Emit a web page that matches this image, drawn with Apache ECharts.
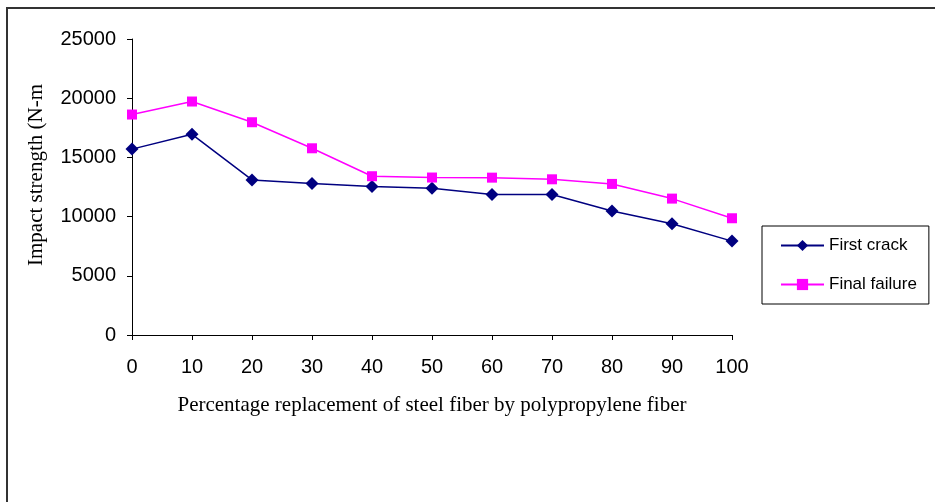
<!DOCTYPE html>
<html>
<head>
<meta charset="utf-8">
<script src="https://cdn.jsdelivr.net/npm/echarts@6/dist/echarts.min.js"></script>
<style>
  html, body { margin: 0; padding: 0; background: #fff; }
  #chart { width: 935px; height: 502px; }
</style>
</head>
<body>
<div id="chart"></div>
<script>
// percentage replacement of steel fiber
const replacement = [0, 10, 20, 30, 40, 50, 60, 70, 80, 90, 100]
const firstCrack = [15700, 16950, 13100, 12800, 12550, 12400, 11870, 11870, 10480, 9400, 7930]
const finalFailure = [18620, 19720, 17970, 15770, 13410, 13300, 13290, 13150, 12760, 11520, 9860]

const sans = 'Arial, "Liberation Sans", sans-serif'
const serif = '"Times New Roman", "Liberation Serif", serif'

const chart = echarts.init(document.getElementById('chart'))

const makeSeries = (name, values, color, symbol, size) => ({
  name: name,
  type: 'line',
  data: replacement.map((x, i) => [x, values[i]]),
  symbol: symbol,
  symbolSize: size,
  lineStyle: { color: color, width: 1.5 },
  itemStyle: { color: color },
  animation: false
})

chart.setOption({
  animation: false,
  grid: { left: 132, right: 203, top: 39, bottom: 167 },
  graphic: [
    {
      type: 'rect',
      shape: { x: 7, y: 8, width: 1000, height: 1000 },
      style: { fill: 'none', stroke: '#333', lineWidth: 2 }
    },
    {
      type: 'text',
      x: 36,
      y: 175,
      rotation: Math.PI / 2,
      style: {
        text: 'Impact strength (N-m',
        font: '21px ' + serif,
        fill: '#000',
        align: 'center',
        verticalAlign: 'middle'
      }
    }
  ],
  legend: {
    orient: 'vertical',
    left: 762,
    top: 226,
    padding: [11, 12, 11, 18],
    itemGap: 22,
    itemWidth: 43,
    itemHeight: 14,
    borderColor: '#000',
    borderWidth: 1,
    textStyle: { fontFamily: sans, fontSize: 17, color: '#000' },
    data: ['First crack', 'Final failure']
  },
  xAxis: {
    type: 'value',
    min: 0,
    max: 100,
    interval: 10,
    name: 'Percentage replacement of steel fiber by polypropylene fiber',
    nameLocation: 'middle',
    nameGap: 60,
    nameTextStyle: { fontFamily: serif, fontSize: 21, color: '#000' },
    axisLine: { lineStyle: { color: '#000', width: 1 } },
    axisTick: { show: true, length: 5, lineStyle: { color: '#000' } },
    axisLabel: { fontFamily: sans, fontSize: 20, color: '#000', margin: 22 },
    splitLine: { show: false }
  },
  yAxis: {
    type: 'value',
    min: 0,
    max: 25000,
    interval: 5000,
    axisLine: { show: true, lineStyle: { color: '#000', width: 1 } },
    axisTick: { show: true, length: 5, lineStyle: { color: '#000' } },
    axisLabel: { fontFamily: sans, fontSize: 20, color: '#000', margin: 16, formatter: (v) => String(v) },
    splitLine: { show: false }
  },
  series: [
    makeSeries('First crack', firstCrack, '#000080', 'diamond', 13),
    makeSeries('Final failure', finalFailure, '#FF00FF', 'rect', 10)
  ]
})
</script>
</body>
</html>
